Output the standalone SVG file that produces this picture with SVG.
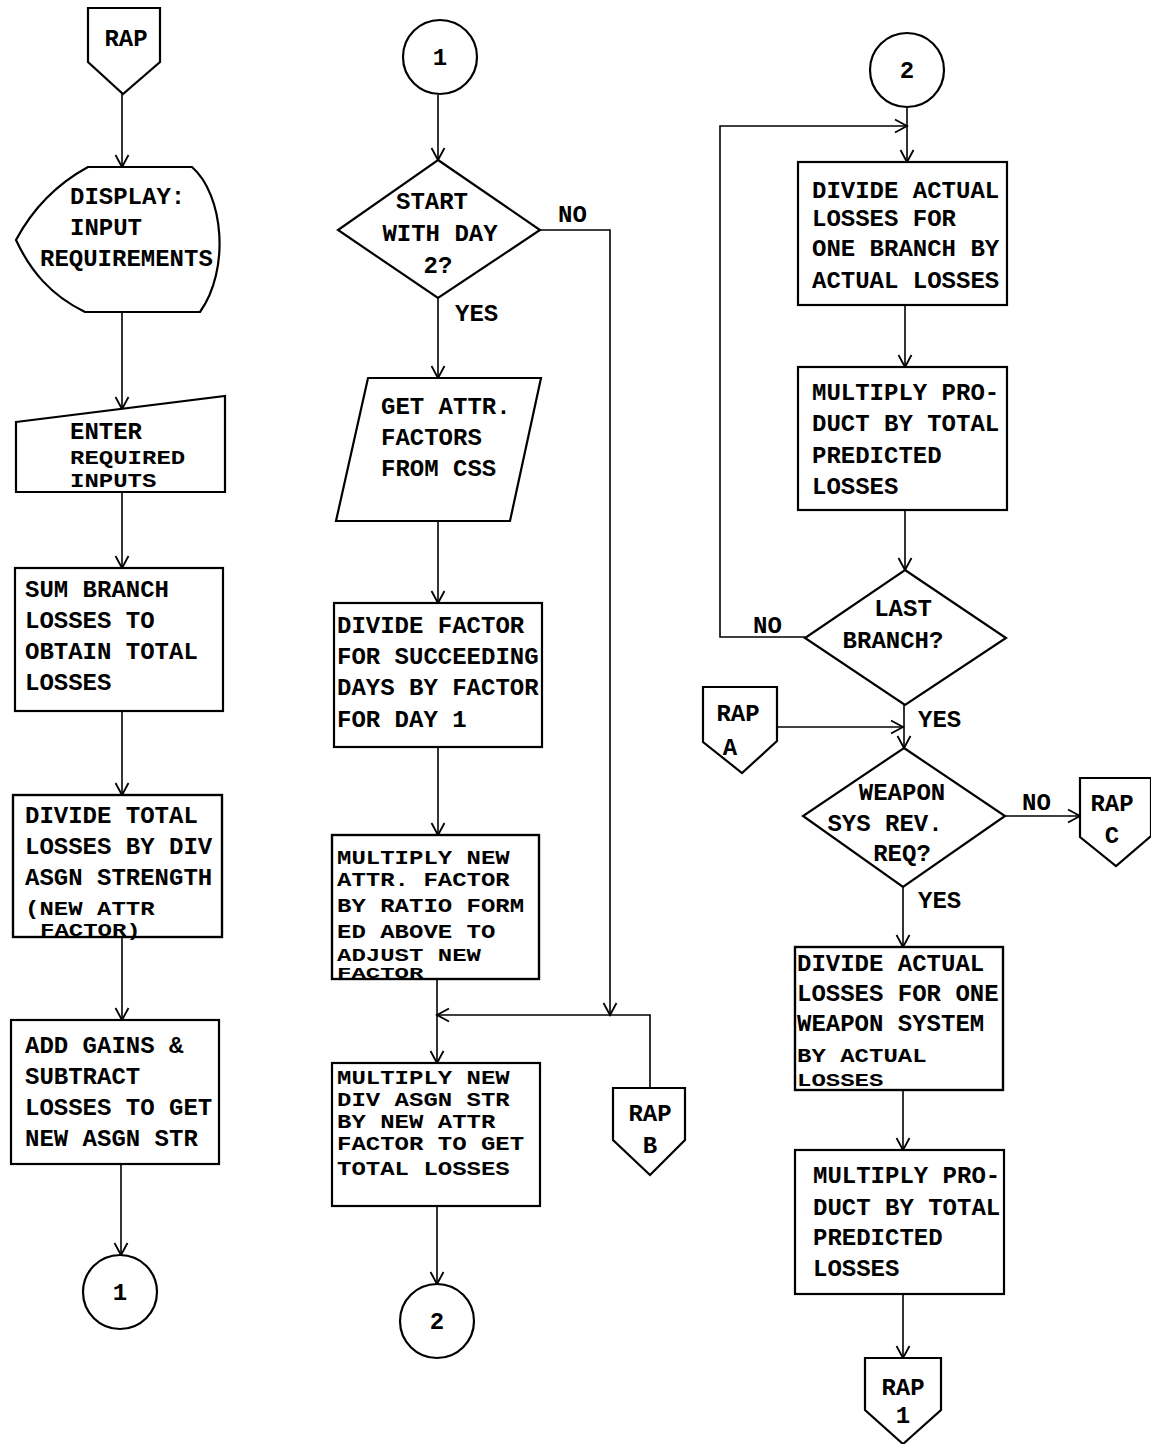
<svg xmlns="http://www.w3.org/2000/svg" width="1151" height="1444" viewBox="0 0 1151 1444">
<style>
.s{fill:#fff;stroke:#000;stroke-width:2.2}
.o{fill:none;stroke:#000;stroke-width:2.2}
.c{fill:none;stroke:#000;stroke-width:1.6}
text{font-family:"Liberation Mono","Courier New",monospace;font-size:24px;font-weight:bold;fill:#000}
.m{text-anchor:middle}
</style>
<defs>
<marker id="a" markerUnits="userSpaceOnUse" markerWidth="16" markerHeight="16" refX="13" refY="8" orient="auto">
<path d="M1,1.5 L13,8 L1,14.5" fill="none" stroke="#000" stroke-width="1.8"/>
</marker>
</defs>
<rect width="1151" height="1444" fill="#fff"/>
<g id="connectors">
<path class="c" d="M122,94 V167" marker-end="url(#a)"/>
<path class="c" d="M122,312 V409" marker-end="url(#a)"/>
<path class="c" d="M122,492 V568" marker-end="url(#a)"/>
<path class="c" d="M122,711 V795" marker-end="url(#a)"/>
<path class="c" d="M122,937 V1020" marker-end="url(#a)"/>
<path class="c" d="M121,1164 V1255" marker-end="url(#a)"/>
<path class="c" d="M438,95 V160" marker-end="url(#a)"/>
<path class="c" d="M438,298 V378" marker-end="url(#a)"/>
<path class="c" d="M438,521 V603" marker-end="url(#a)"/>
<path class="c" d="M438,747 V835" marker-end="url(#a)"/>
<path class="c" d="M437,979 V1063" marker-end="url(#a)"/>
<path class="c" d="M540,230 H610 V1015" marker-end="url(#a)"/>
<path class="c" d="M650,1088 V1015 H437" marker-end="url(#a)"/>
<path class="c" d="M437,1206 V1284" marker-end="url(#a)"/>
<path class="c" d="M907,108 V162" marker-end="url(#a)"/>
<path class="c" d="M805,637 H720 V126 H907" marker-end="url(#a)"/>
<path class="c" d="M905,305 V367" marker-end="url(#a)"/>
<path class="c" d="M905,510 V570" marker-end="url(#a)"/>
<path class="c" d="M904,705 V748" marker-end="url(#a)"/>
<path class="c" d="M778,727 H903" marker-end="url(#a)"/>
<path class="c" d="M1005,816 H1080" marker-end="url(#a)"/>
<path class="c" d="M903,887 V947" marker-end="url(#a)"/>
<path class="c" d="M903,1090 V1150" marker-end="url(#a)"/>
<path class="c" d="M903,1294 V1358" marker-end="url(#a)"/>
</g>
<g id="rap-start">
<path class="s" d="M88,8 H160 V62 L123,94 L88,62 Z"/>
<text class="m" x="126" y="46">RAP</text>
</g>
<g id="display">
<path class="s" d="M88,167 H192 C224,195 230,270 200,312 H85 C50,295 30,270 16,240 C32,210 55,185 88,167 Z"/>
<text x="70" y="204">DISPLAY:</text>
<text x="70" y="235">INPUT</text>
<text x="40" y="266">REQUIREMENTS</text>
</g>
<g id="enter">
<path class="s" d="M16,422 L225,396 V492 H16 Z"/>
<text x="70" y="439">ENTER</text>
<text transform="translate(70,464) scale(1,0.85)">REQUIRED</text>
<text transform="translate(70,487) scale(1,0.85)">INPUTS</text>
</g>
<g id="sum">
<rect class="s" x="15" y="568" width="208" height="143"/>
<text x="25" y="597">SUM BRANCH</text>
<text x="25" y="628">LOSSES TO</text>
<text x="25" y="659">OBTAIN TOTAL</text>
<text x="25" y="690">LOSSES</text>
</g>
<g id="divide-total">
<rect class="s" x="13" y="795" width="209" height="142"/>
<text x="25" y="823">DIVIDE TOTAL</text>
<text x="25" y="854">LOSSES BY DIV</text>
<text x="25" y="885">ASGN STRENGTH</text>
<text transform="translate(25,915) scale(1,0.85)">(NEW ATTR</text>
<text transform="translate(40,936) scale(1,0.75)">FACTOR)</text>
<rect class="o" x="13" y="795" width="209" height="142"/>
</g>
<g id="add">
<rect class="s" x="11" y="1020" width="208" height="144"/>
<text x="25" y="1053">ADD GAINS &amp;</text>
<text x="25" y="1084">SUBTRACT</text>
<text x="25" y="1115">LOSSES TO GET</text>
<text x="25" y="1146">NEW ASGN STR</text>
</g>
<g id="conn1-left">
<circle class="s" cx="120" cy="1292" r="37"/>
<text class="m" x="120" y="1300">1</text>
</g>
<g id="conn1-mid">
<circle class="s" cx="440" cy="57" r="37"/>
<text class="m" x="440" y="65">1</text>
</g>
<g id="start-day2">
<path class="s" d="M438,160 L540,230 L438,298 L338,230 Z"/>
<text class="m" x="432" y="209">START</text>
<text class="m" x="440" y="241">WITH DAY</text>
<text class="m" x="438" y="273">2?</text>
<text x="558" y="222">NO</text>
<text x="455" y="321">YES</text>
</g>
<g id="get-attr">
<path class="s" d="M368,378 H541 L510,521 H336 Z"/>
<text x="381" y="414">GET ATTR.</text>
<text x="381" y="445">FACTORS</text>
<text x="381" y="476">FROM CSS</text>
</g>
<g id="divide-factor">
<rect class="s" x="334" y="603" width="208" height="144"/>
<text x="337" y="633">DIVIDE FACTOR</text>
<text x="337" y="664">FOR SUCCEEDING</text>
<text x="337" y="695">DAYS BY FACTOR</text>
<text x="337" y="727">FOR DAY 1</text>
</g>
<g id="multiply-attr">
<rect class="s" x="332" y="835" width="207" height="144"/>
<text transform="translate(337,864) scale(1,0.85)">MULTIPLY NEW</text>
<text transform="translate(337,886) scale(1,0.85)">ATTR. FACTOR</text>
<text transform="translate(337,912) scale(1,0.85)">BY RATIO FORM</text>
<text transform="translate(337,938) scale(1,0.85)">ED ABOVE TO</text>
<text transform="translate(337,961) scale(1,0.78)">ADJUST NEW</text>
<text transform="translate(337,978) scale(1,0.62)">FACTOR</text>
<rect class="o" x="332" y="835" width="207" height="144"/>
</g>
<g id="multiply-div">
<rect class="s" x="332" y="1063" width="208" height="143"/>
<text transform="translate(337,1084) scale(1,0.85)">MULTIPLY NEW</text>
<text transform="translate(337,1106) scale(1,0.85)">DIV ASGN STR</text>
<text transform="translate(337,1128) scale(1,0.85)">BY NEW ATTR</text>
<text transform="translate(337,1150) scale(1,0.85)">FACTOR TO GET</text>
<text transform="translate(337,1175) scale(1,0.85)">TOTAL LOSSES</text>
</g>
<g id="rap-b">
<path class="s" d="M613,1088 H685 V1140 L650,1175 L613,1140 Z"/>
<text class="m" x="650" y="1121">RAP</text>
<text class="m" x="650" y="1153">B</text>
</g>
<g id="conn2-mid">
<circle class="s" cx="437" cy="1321" r="37"/>
<text class="m" x="437" y="1329">2</text>
</g>
<g id="conn2-right">
<circle class="s" cx="907" cy="70" r="37"/>
<text class="m" x="907" y="78">2</text>
</g>
<g id="divide-branch">
<rect class="s" x="798" y="162" width="209" height="143"/>
<text x="812" y="198">DIVIDE ACTUAL</text>
<text x="812" y="226">LOSSES FOR</text>
<text x="812" y="256">ONE BRANCH BY</text>
<text x="812" y="288">ACTUAL LOSSES</text>
</g>
<g id="multiply-branch">
<rect class="s" x="798" y="367" width="209" height="143"/>
<text x="812" y="400">MULTIPLY PRO-</text>
<text x="812" y="431">DUCT BY TOTAL</text>
<text x="812" y="463">PREDICTED</text>
<text x="812" y="494">LOSSES</text>
</g>
<g id="last-branch">
<path class="s" d="M905,570 L1006,638 L905,705 L805,638 Z"/>
<text class="m" x="903" y="616">LAST</text>
<text class="m" x="893" y="648">BRANCH?</text>
<text x="753" y="633">NO</text>
<text x="918" y="727">YES</text>
</g>
<g id="rap-a">
<path class="s" d="M703,687 H777 V741 L742,773 L703,742 Z"/>
<text class="m" x="738" y="721">RAP</text>
<text class="m" x="730" y="755">A</text>
</g>
<g id="weapon-rev">
<path class="s" d="M904,748 L1005,816 L903,887 L803,816 Z"/>
<text class="m" x="902" y="800">WEAPON</text>
<text class="m" x="885" y="831">SYS REV.</text>
<text class="m" x="902" y="861">REQ?</text>
<text x="1022" y="810">NO</text>
<text x="918" y="908">YES</text>
</g>
<g id="rap-c">
<path class="s" d="M1080,778 H1151 V836 L1116,866 L1080,837 Z"/>
<text class="m" x="1112" y="811">RAP</text>
<text class="m" x="1112" y="843">C</text>
</g>
<g id="divide-weapon">
<rect class="s" x="795" y="947" width="208" height="143"/>
<text x="797" y="971">DIVIDE ACTUAL</text>
<text x="797" y="1001">LOSSES FOR ONE</text>
<text x="797" y="1031">WEAPON SYSTEM</text>
<text transform="translate(797,1062) scale(1,0.85)">BY ACTUAL</text>
<text transform="translate(797,1086) scale(1,0.8)">LOSSES</text>
<rect class="o" x="795" y="947" width="208" height="143"/>
</g>
<g id="multiply-weapon">
<rect class="s" x="795" y="1150" width="209" height="144"/>
<text x="813" y="1183">MULTIPLY PRO-</text>
<text x="813" y="1215">DUCT BY TOTAL</text>
<text x="813" y="1245">PREDICTED</text>
<text x="813" y="1276">LOSSES</text>
</g>
<g id="rap-1">
<path class="s" d="M865,1358 H941 V1410 L903,1444 L865,1410 Z"/>
<text class="m" x="903" y="1395">RAP</text>
<text class="m" x="903" y="1423">1</text>
</g>
</svg>
